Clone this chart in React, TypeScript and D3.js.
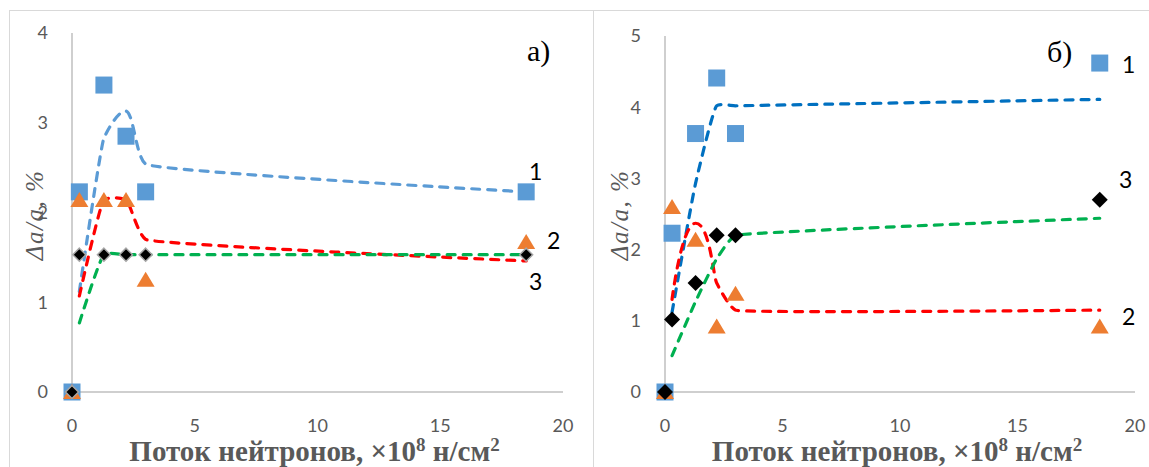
import React from "react";
import * as d3 from "d3";

// neutron fluence, x10^8 n/cm2
const fluence = [0, 0.3, 1.3, 2.2, 3.0, 18.5];
const trendFluence = [0.3, 1.3, 2.2, 3.0, 18.5];

// panel a)
const aSeries1 = [0, 2.23, 3.42, 2.85, 2.23, 2.23];
const aSeries2 = [0, 2.14, 2.14, 2.14, 1.25, 1.67];
const aSeries3 = [0, 1.53, 1.53, 1.53, 1.53, 1.53];
const aTrend1 = [1.12, 2.83, 3.13, 2.54, 2.23];
const aTrend2 = [1.07, 2.14, 2.14, 1.7, 1.46];
const aTrend3 = [0.77, 1.53, 1.53, 1.53, 1.53];

// panel б)
const bSeries1 = [0, 2.23, 3.63, 4.41, 3.63, 4.62];
const bSeries2 = [0, 2.6, 2.14, 0.92, 1.38, 0.92];
const bSeries3 = [0, 1.02, 1.53, 2.2, 2.2, 2.7];
const bTrend1 = [1.12, 2.93, 4.02, 4.02, 4.11];
const bTrend2 = [1.3, 2.37, 1.53, 1.15, 1.15];
const bTrend3 = [0.51, 1.27, 1.87, 2.2, 2.44];

const xTicks = [0, 5, 10, 15, 20];
const aYTicks = [0, 1, 2, 3, 4];
const bYTicks = [0, 1, 2, 3, 4, 5];

const BLUE = "#5b9bd5";
const ORANGE = "#ed7d31";
const GRAY = "#595959";
const AXIS = "#bfbfbf";

const tickFont = "Lato, 'Open Sans', sans-serif";
const serif = "'Liberation Serif', 'DejaVu Serif', serif";

// Excel-like smoothing: bezier handles along the corner bisector,
// length limited by the shorter adjacent segment so long runs stay straight
function smoothPath(pts: [number, number][]) {
  const p = d3.path();
  const n = pts.length;
  const unit = (a, b) => {
    const dx = b[0] - a[0], dy = b[1] - a[1], l = Math.hypot(dx, dy) || 1;
    return [dx / l, dy / l, l];
  };
  const tan = pts.map((pt, i) => {
    if (i === 0 || i === n - 1) return [0, 0, 0];
    const u = unit(pts[i - 1], pt), v = unit(pt, pts[i + 1]);
    const bx = u[0] + v[0], by = u[1] + v[1], bl = Math.hypot(bx, by) || 1;
    return [bx / bl, by / bl, 0.22 * Math.min(u[2], v[2])];
  });
  p.moveTo(pts[0][0], pts[0][1]);
  for (let i = 0; i < n - 1; i++) {
    const a = pts[i], b = pts[i + 1], ta = tan[i], tb = tan[i + 1];
    p.bezierCurveTo(a[0] + ta[0] * ta[2], a[1] + ta[1] * ta[2],
      b[0] - tb[0] * tb[2], b[1] - tb[1] * tb[2], b[0], b[1]);
  }
  return p.toString();
}

function Panel(props) {
  const { frameX, left, right, top, bottom, yMax, yTicks, s1, s2, s3, t1, t2, t3,
    trend1Color, outlineDiamonds, diamond, letter, letterPos, labels, titleX } = props;

  const x = d3.scaleLinear().domain([0, 20]).range([left, right]);
  const y = d3.scaleLinear().domain([0, yMax]).range([bottom, top]);

  const line = (vals: number[]) =>
    smoothPath(vals.map((v, i) => [x(trendFluence[i]), y(v)] as [number, number]));

  const dash = { fill: "none", strokeWidth: 3.2, strokeDasharray: "8 8", strokeLinecap: "round" as const };

  return (
    <g>
      <rect x={frameX} y={10.5} width={600} height={500} fill="white" stroke="#d9d9d9" />

      {/* axes */}
      <line x1={x(0)} x2={x(0)} y1={y(0)} y2={y(yMax)} stroke={AXIS} strokeWidth={1.5} />
      <line x1={x(0)} x2={x(20)} y1={y(0)} y2={y(0)} stroke={AXIS} strokeWidth={1.5} />

      {yTicks.map(t => (
        <text key={"y" + t} x={x(0) - 24} y={y(t)} dy="0.35em" textAnchor="end"
          fontFamily={tickFont} fontSize={18} fill={GRAY}>{t}</text>
      ))}
      {xTicks.map(t => (
        <text key={"x" + t} x={x(t)} y={432} textAnchor="middle"
          fontFamily={tickFont} fontSize={18} fill={GRAY}>{t}</text>
      ))}

      {/* trend lines */}
      <path d={line(t1)} stroke={trend1Color} {...dash} />
      <path d={line(t2)} stroke="#ff0000" {...dash} />
      <path d={line(t3)} stroke="#00b050" {...dash} />

      {/* markers */}
      {s1.map((v, i) => (
        <rect key={"s" + i} x={x(fluence[i]) - 8.5} y={y(v) - 8.5} width={17} height={17} fill={BLUE} />
      ))}
      {s2.map((v, i) => {
        const cx = x(fluence[i]), cy = y(v);
        return <path key={"t" + i} d={`M${cx},${cy - 8}L${cx + 9},${cy + 7}L${cx - 9},${cy + 7}Z`} fill={ORANGE} />;
      })}
      {s3.map((v, i) => {
        const cx = x(fluence[i]), cy = y(v);
        return <path key={"d" + i} d={`M${cx},${cy - diamond}L${cx + diamond},${cy}L${cx},${cy + diamond}L${cx - diamond},${cy}Z`}
          fill="black" stroke={outlineDiamonds ? "#a6a6a6" : "none"} strokeWidth={1.5} />;
      })}

      {/* labels */}
      <text x={letterPos[0]} y={letterPos[1]} fontFamily={serif} fontSize={30} fill="black">{letter}</text>
      {labels.map(l => (
        <text key={l.t} x={l.x} y={l.y} fontFamily={tickFont} fontSize={23} fill="black">{l.t}</text>
      ))}

      {/* axis titles */}
      <text transform={`translate(${titleX},215) rotate(-90)`} textAnchor="middle"
        fontFamily={serif} fontStyle="italic" fontSize={25} fill={GRAY} letterSpacing={1.5}>Δa/a, %</text>
      <text x={(left + right) / 2 - 3} y={461} textAnchor="middle" fontFamily={serif}
        fontWeight="bold" fontSize={29} fill={GRAY}>
        Поток нейтронов, ×10<tspan dy={-10} fontSize={19}>8</tspan>
        <tspan dy={10}> н/см</tspan><tspan dy={-10} fontSize={19}>2</tspan>
      </text>
    </g>
  );
}

export default function App() {
  return (
    <svg width={1149} height={467} style={{ position: "absolute", left: 0, top: 0, background: "white" }}>
      <Panel frameX={9.5} left={72} right={563} top={33} bottom={392} yMax={4} yTicks={aYTicks}
        s1={aSeries1} s2={aSeries2} s3={aSeries3} t1={aTrend1} t2={aTrend2} t3={aTrend3}
        trend1Color={BLUE} outlineDiamonds={true} diamond={6.5} letter="а)" letterPos={[527, 61]}
        labels={[{ t: "1", x: 529, y: 180 }, { t: "2", x: 547, y: 249 }, { t: "3", x: 529, y: 290 }]}
        titleX={43} />
      <Panel frameX={593.5} left={665} right={1135} top={36} bottom={392} yMax={5} yTicks={bYTicks}
        s1={bSeries1} s2={bSeries2} s3={bSeries3} t1={bTrend1} t2={bTrend2} t3={bTrend3}
        trend1Color="#0070c0" outlineDiamonds={false} diamond={8} letter="б)" letterPos={[1047, 62]}
        labels={[{ t: "1", x: 1122, y: 73 }, { t: "3", x: 1119, y: 188 }, { t: "2", x: 1122, y: 325 }]}
        titleX={628} />
    </svg>
  );
}
